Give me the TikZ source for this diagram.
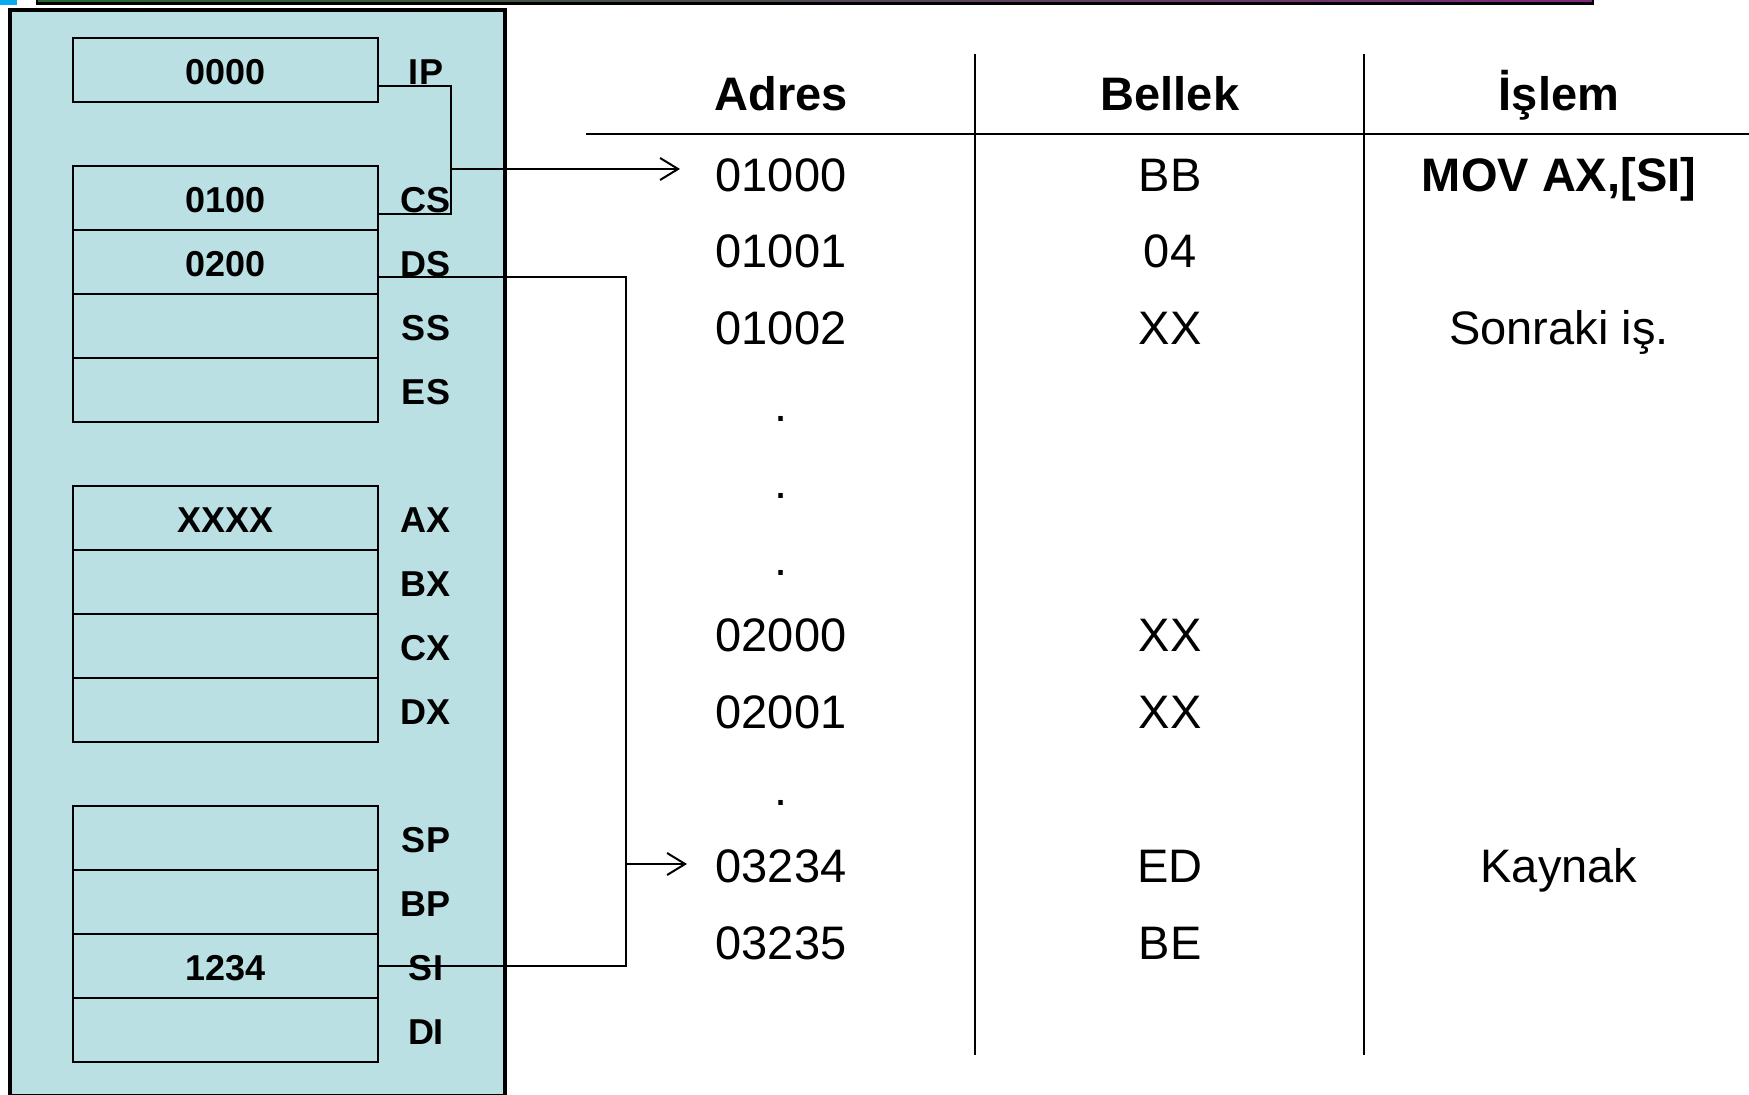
\documentclass[tikz,border=0pt]{standalone}
\usepackage{fontspec}
\setmainfont{Liberation Sans}
\usetikzlibrary{arrows.meta,calc}
\definecolor{panelfill}{RGB}{187,224,227}
\definecolor{capblue}{RGB}{10,170,240}
\definecolor{bargreen}{RGB}{40,105,45}
\definecolor{barpurple}{RGB}{125,40,125}

\begin{document}
\begin{tikzpicture}[x=1pt,y=-1pt,
  reg/.style={draw, line width=2.2pt, minimum width=305pt, minimum height=64pt,
    inner sep=0pt, font=\fontsize{36}{40}\selectfont\bfseries},
  regtext/.style={inner sep=0pt, font=\fontsize{36}{40}\selectfont\bfseries},
  cell/.style={anchor=base, inner sep=0pt, font=\fontsize{47}{52}\selectfont},
  head/.style={cell, font=\fontsize{47}{52}\selectfont\bfseries},
  wire/.style={line width=2pt},
  pointer/.style={wire, -{Straight Barb[length=18pt,width=22pt]}},
  rule/.style={line width=2pt}]

\useasboundingbox (0,0) rectangle (1749,1095);
\clip (0,0) rectangle (1749,1095);

% strip of the title bar above and the corner mark
\draw[line width=2.5pt, left color=bargreen, right color=barpurple] (37,-20) rectangle (1593,3.5);
\fill[capblue] (0,-5) rectangle (17,5);

% register panel
\draw[line width=4.5pt, fill=panelfill] (10,10) rectangle (505,1096.5);

% registers: slot index / name / value / label
\foreach \k/\n/\v/\l in {0/ip/0000/IP, 2/cs/0100/CS, 3/ds/0200/DS, 4/ss//SS, 5/es//ES,
    7/ax/XXXX/AX, 8/bx//BX, 9/cx//CX, 10/dx//DX,
    12/sp//SP, 13/bp//BP, 14/si/1234/SI, 15/di//DI}{
  \node[reg] (\n) at (225.5,{70+64*\k}) {};
  \node[regtext] (\n-val) at (225.5,{72+64*\k}) {\v};
  \node[regtext] (\n-lab) at (426,{72+64*\k}) {\l};
}

% CS:IP points to the instruction, DS:SI to the operand
\coordinate (j1) at (451,169);
\coordinate (t0) at (680,169);
\draw[wire] ([yshift=-16pt]ip.east) -| (j1) |- ([yshift=-16pt]cs.east);
\draw[pointer] (j1) -- (t0);

\coordinate (j2) at (626,864);
\coordinate (t9) at (687,864);
\draw[wire] ([yshift=-15pt]ds.east) -| (j2) |- (si.east);
\draw[pointer] (j2) -- (t9);

% memory table
\draw[rule] (586,134) -- (1749,134);
\draw[rule] (975,54) -- (975,1055);
\draw[rule] (1364,54) -- (1364,1055);

\node[head] (h-adr) at (781,110.5) {Adres};
\node[head] (h-mem) at (1170,110.5) {Bellek};
\node[head] (h-op)  at (1559,110.5) {İşlem};

\foreach \i/\a in {0/01000, 1/01001, 2/01002, 3/., 4/., 5/., 6/02000, 7/02001, 8/., 9/03234, 10/03235}{
  \node[cell] (adr-\i) at (781,{191+76.8*\i}) {\a};
}
\foreach \i/\m in {0/BB, 1/04, 2/XX, 6/XX, 7/XX, 9/ED, 10/BE}{
  \node[cell] (mem-\i) at (1170,{191+76.8*\i}) {\m};
}
\node[head] (op-0) at (1559,191) {MOV AX,[SI]};
\node[cell] (op-2) at (1559,{191+76.8*2}) {Sonraki iş.};
\node[cell] (op-9) at (1559,{191+76.8*9}) {Kaynak};

\end{tikzpicture}
\end{document}
